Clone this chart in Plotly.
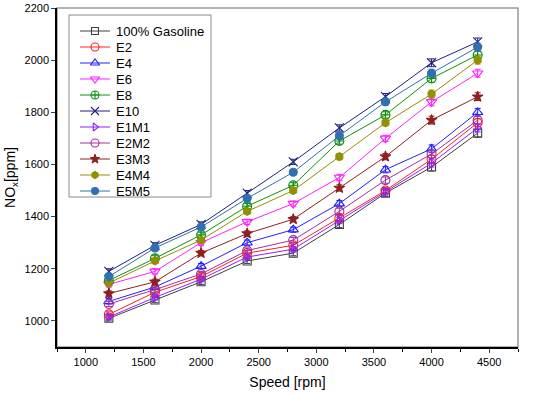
import plotly.graph_objects as go

speed = [1200, 1600, 2000, 2400, 2800, 3200, 3600, 4000, 4400]

series_names = ["100% Gasoline", "E2", "E4", "E6", "E8", "E10",
                "E1M1", "E2M2", "E3M3", "E4M4", "E5M5"]

gasoline = [1010, 1080, 1150, 1230, 1260, 1370, 1490, 1590, 1720]
e2 = [1025, 1110, 1170, 1260, 1290, 1395, 1500, 1620, 1760]
e4 = [1075, 1130, 1210, 1300, 1350, 1450, 1580, 1660, 1800]
e6 = [1140, 1190, 1300, 1380, 1450, 1550, 1700, 1840, 1950]
e8 = [1155, 1240, 1330, 1440, 1520, 1690, 1790, 1930, 2020]
e10 = [1190, 1290, 1370, 1490, 1610, 1740, 1860, 1990, 2070]
e1m1 = [1015, 1090, 1160, 1245, 1275, 1385, 1495, 1605, 1740]
e2m2 = [1065, 1120, 1180, 1270, 1310, 1420, 1540, 1640, 1770]
e3m3 = [1105, 1150, 1260, 1335, 1390, 1510, 1630, 1770, 1860]
e4m4 = [1145, 1230, 1310, 1420, 1500, 1630, 1760, 1870, 2000]
e5m5 = [1170, 1280, 1360, 1470, 1570, 1710, 1840, 1950, 2050]

errors = [10, 10, 10, 10, 10, 12, 12, 15, 15]

x_ticks = [1000, 1500, 2000, 2500, 3000, 3500, 4000, 4500]
y_ticks = [1000, 1200, 1400, 1600, 1800, 2000, 2200]

values = [gasoline, e2, e4, e6, e8, e10, e1m1, e2m2, e3m3, e4m4, e5m5]
colors = ["#404040", "#FF2020", "#2020FF", "#FF20FF", "#109010", "#202080",
          "#9020FF", "#A030A0", "#902020", "#909000", "#3070B0"]
symbols = ["square-open", "circle-open", "triangle-up-open", "triangle-down-open",
           "circle-cross-open", "x-thin-open", "triangle-right-open", "circle-open",
           "star", "hexagon", "circle"]
sizes = [8, 9, 9, 9, 9, 9, 8, 9, 8, 8, 8]

W, H = 550, 394
ML, MR, MT, MB = 57, 32, 8, 47

fig = go.Figure()
for name, y, c, s, sz in zip(series_names, values, colors, symbols, sizes):
    fig.add_trace(go.Scatter(
        x=speed, y=y, name=name, mode="lines+markers", showlegend=False,
        line=dict(color=c, width=1),
        marker=dict(symbol=s, size=sz, color=c, line=dict(color=c, width=1.1)),
        error_y=dict(type="data", array=errors, visible=True, color=c,
                     thickness=1, width=3),
    ))

# Compact legend drawn on an overlay axis measured in page pixels
leg_top, leg_step = 31, 16
leg_x0, leg_xm, leg_x1, leg_tx = 80, 95, 110, 114
for i, (name, c, s, sz) in enumerate(zip(series_names, colors, symbols, sizes)):
    yy = leg_top + leg_step * i
    fig.add_trace(go.Scatter(
        x=[leg_x0, leg_x1], y=[yy, yy], mode="lines", xaxis="x2", yaxis="y2",
        line=dict(color=c, width=1), showlegend=False, hoverinfo="skip"))
    fig.add_trace(go.Scatter(
        x=[leg_xm], y=[yy], mode="markers", xaxis="x2", yaxis="y2",
        marker=dict(symbol=s, size=sz - 1, color=c, line=dict(color=c, width=1.1)),
        showlegend=False, hoverinfo="skip"))
    fig.add_annotation(x=leg_tx, y=yy, xref="x2", yref="y2", text=name,
                       showarrow=False, xanchor="left", yanchor="middle",
                       font=dict(size=13, family="Liberation Sans, Arial", color="black"))

fig.update_layout(
    width=W, height=H,
    margin=dict(l=ML, r=MR, t=MT, b=MB),
    paper_bgcolor="white", plot_bgcolor="white",
    font=dict(family="Liberation Sans, Arial", size=11, color="black"),
    showlegend=False,
    xaxis2=dict(overlaying="x", range=[ML, W - MR], visible=False, fixedrange=True),
    yaxis2=dict(overlaying="y", range=[H - MB, MT], visible=False, fixedrange=True),
    shapes=[
        dict(type="rect", xref="paper", yref="paper", x0=0, y0=0, x1=1, y1=1,
             line=dict(color="#999999", width=1.5), layer="below"),
        dict(type="rect", xref="x2", yref="y2", x0=69, y0=15, x1=211, y1=197,
             line=dict(color="#888888", width=1), fillcolor="white", layer="below"),
    ],
    xaxis=dict(
        range=[750, 4750], tickvals=x_ticks, ticks="outside", ticklen=4,
        showline=True, linecolor="black", linewidth=1.5, showgrid=False, zeroline=False,
        minor=dict(dtick=250, tick0=750, ticks="outside", ticklen=3, tickcolor="black"),
        title=dict(text="Speed [rpm]", font=dict(size=14), standoff=10),
        tickfont=dict(size=11), automargin=False,
    ),
    yaxis=dict(
        range=[900, 2200], tickvals=y_ticks, ticks="outside", ticklen=4,
        showline=True, linecolor="black", linewidth=1.5, showgrid=False, zeroline=False,
        title=dict(text="NO<sub>x</sub>[ppm]", font=dict(size=14), standoff=6),
        tickfont=dict(size=11), automargin=False,
    ),
)

fig.write_html("out.html", config={"displayModeBar": False},
               post_script="document.body.style.margin='0';document.body.style.padding='0';")
